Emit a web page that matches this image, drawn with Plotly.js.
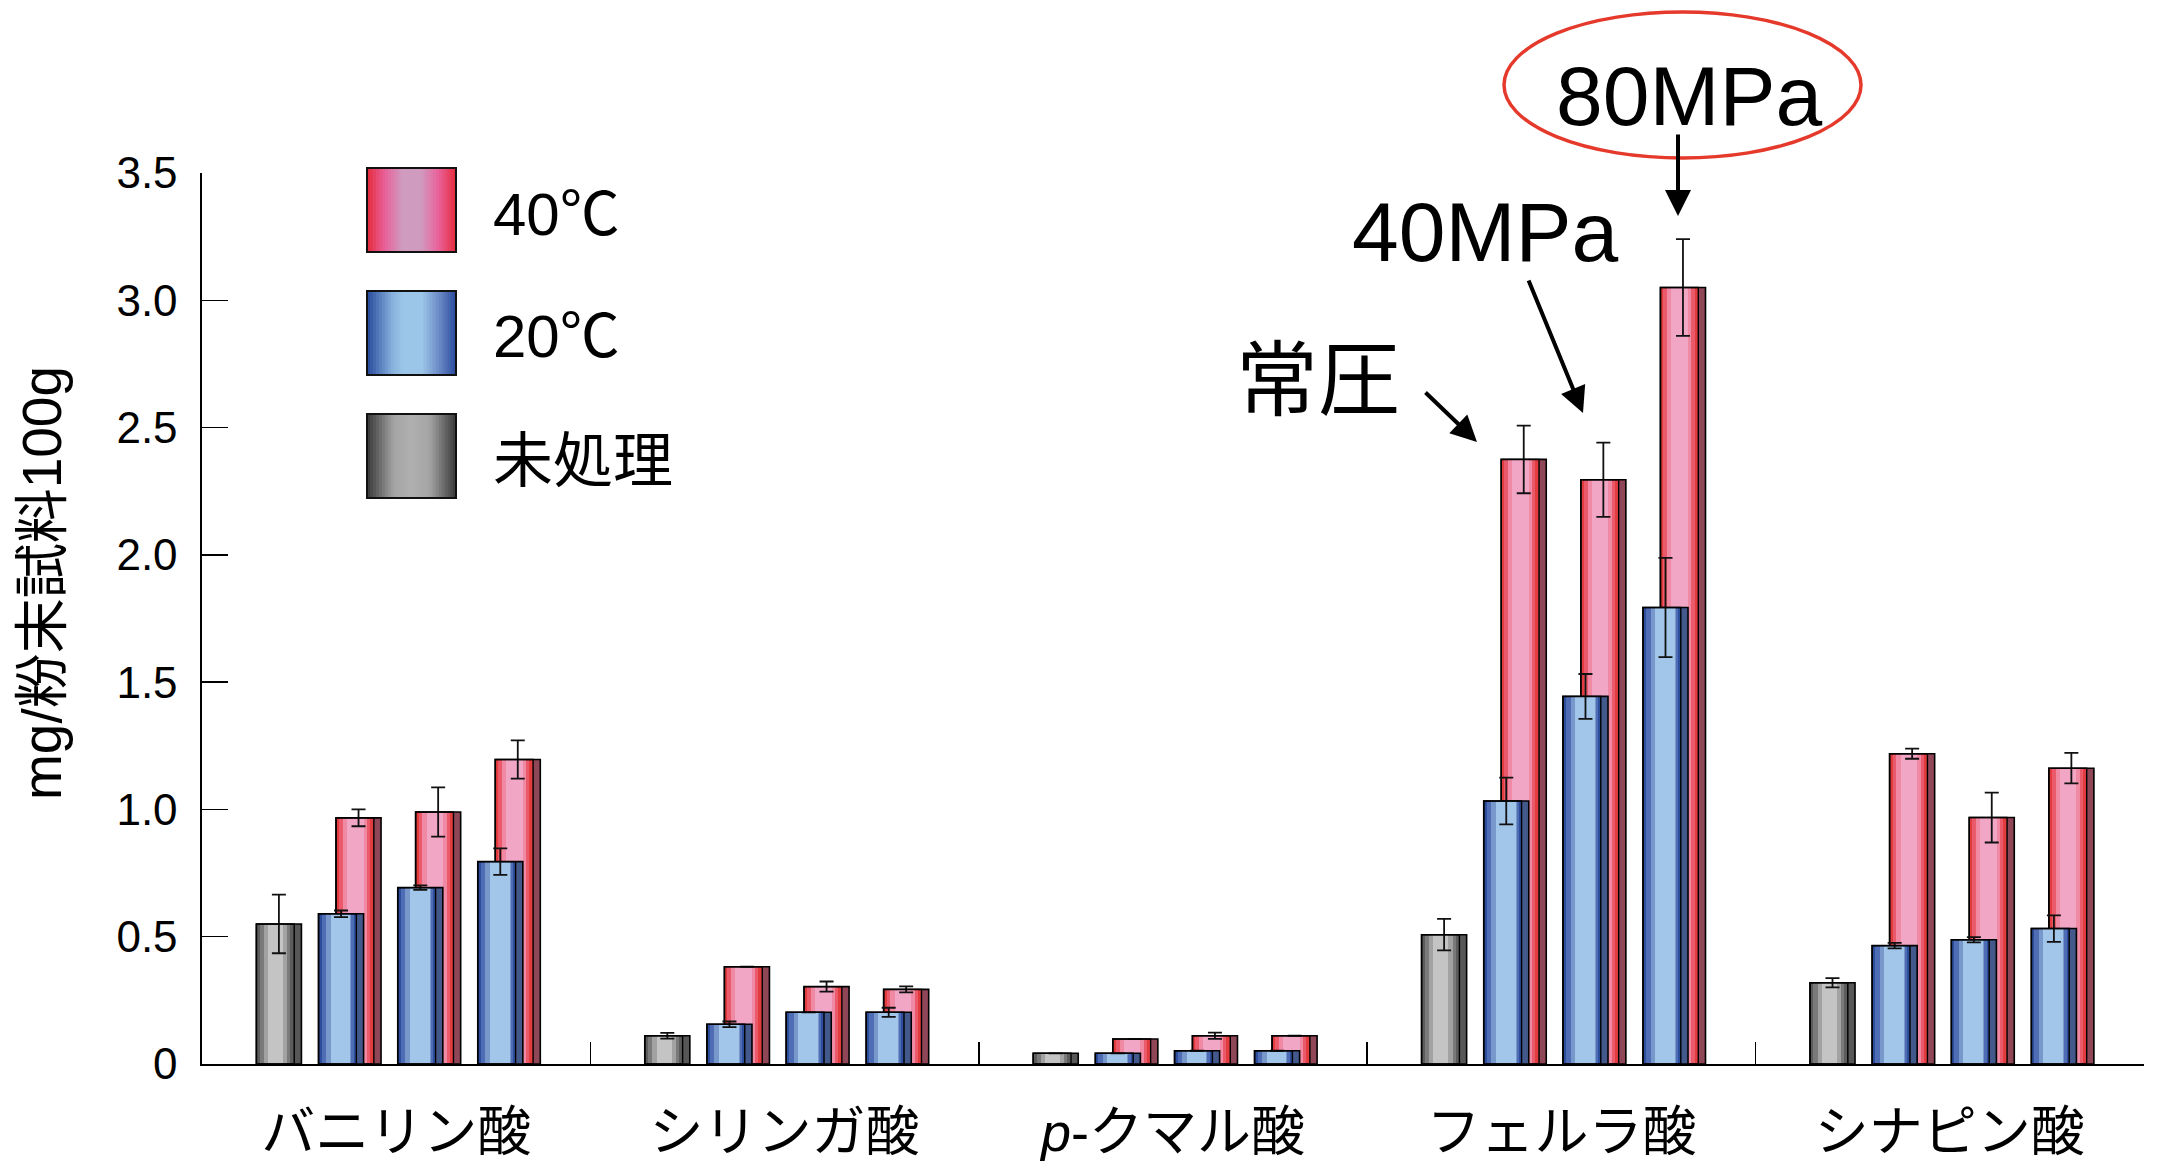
<!DOCTYPE html>
<html>
<head>
<meta charset="utf-8">
<script src="https://cdn.plot.ly/plotly-3.0.1.min.js"></script>
<style>html,body{margin:0;padding:0;background:#fff;}</style>
</head>
<body>
<div id="chart" style="width:2158px;height:1161px;"></div>
<script>
// ---------- data ----------
const categories = ['バニリン酸', 'シリンガ酸', '<i>p</i>-クマル酸', 'フェルラ酸', 'シナピン酸'];
const yTickVals = [0, 0.5, 1.0, 1.5, 2.0, 2.5, 3.0, 3.5];
const yTickText = ['0', '0.5', '1.0', '1.5', '2.0', '2.5', '3.0', '3.5'];

// 未処理 (untreated)
const untreated    = [0.55, 0.111, 0.042, 0.508, 0.319];
const untreatedErr = [0.115, 0.011, null, 0.062, 0.018];

// 20℃ : 常圧 / 40MPa / 80MPa
const t20_atm    = [0.590, 0.156, 0.042, 1.033, 0.465];
const t20_atmErr = [0.013, 0.011, null, 0.092, 0.011];
const t20_40     = [0.693, 0.203, 0.052, 1.444, 0.488];
const t20_40Err  = [0.009, null, null, 0.088, 0.010];
const t20_80     = [0.795, 0.203, 0.052, 1.793, 0.532];
const t20_80Err  = [0.052, 0.018, null, 0.195, 0.052];

// 40℃ : 常圧 / 40MPa / 80MPa
const t40_atm    = [0.967, 0.382, 0.098, 2.375, 1.219];
const t40_atmErr = [0.033, null, null, 0.133, 0.020];
const t40_40     = [0.990, 0.304, 0.111, 2.295, 0.968];
const t40_40Err  = [0.097, 0.020, 0.012, 0.146, 0.098];
const t40_80     = [1.196, 0.293, 0.111, 3.050, 1.162];
const t40_80Err  = [0.075, 0.012, null, 0.190, 0.060];

const legendLabels = ['40℃', '20℃', '未処理'];
const pressureLabels = ['常圧', '40MPa', '80MPa'];
const yTitle = 'mg/粉末試料100g';

// ---------- styling ----------
const FONT = 'Liberation Sans, Arial, Noto Sans CJK JP, sans-serif';
const CJK = 'Noto Sans CJK JP, Liberation Sans, sans-serif';
const W = 0.116;          // bar width (category units)
const FACE = 0.84;        // front face fraction
const grayStyle = {
  side: '#575757',
  layers: [[0, 1, '#5c5c5c'], [0.09, 0.90, '#7a7a7a'], [0.20, 0.82, '#a2a2a2'], [0.31, 0.71, '#c4c4c4']]
};
const blueStyle = {
  side: '#43598b',
  layers: [[0, 1, '#2d4d9d'], [0.08, 0.93, '#4f6db5'], [0.20, 0.87, '#7898cc'], [0.32, 0.84, '#a2c6ea']]
};
const redStyle = {
  side: '#8f4657',
  layers: [[0, 1, '#e23c3e'], [0.08, 0.90, '#ea5a6a'], [0.18, 0.82, '#f08aa4'], [0.29, 0.73, '#f2a6c6']]
};

const traces = [];
function addBar(values, errs, start, style) {
  const base = {type: 'bar', x: categories, y: values, showlegend: false, hoverinfo: 'y'};
  traces.push(Object.assign({}, base, {width: W, offset: start,
    marker: {color: style.side, line: {width: 0}}}));
  const fw = W * FACE;
  style.layers.forEach(([s, e, c]) => {
    traces.push(Object.assign({}, base, {width: fw * (e - s), offset: start + fw * s,
      marker: {color: c, line: {width: 0}}}));
  });
  traces.push(Object.assign({}, base, {width: W, offset: start,
    marker: {color: 'rgba(0,0,0,0)', line: {width: 1.6, color: '#000'}},
    error_y: {type: 'data', array: errs, visible: true, color: '#111', thickness: 1.8, width: 7}}));
  traces.push(Object.assign({}, base, {width: fw, offset: start,
    marker: {color: 'rgba(0,0,0,0)', line: {width: 1.4, color: '#000'}}}));
}

// red (behind), then blue, then gray
addBar(t40_atm, t40_atmErr, -0.155, redStyle);
addBar(t40_40,  t40_40Err,   0.050, redStyle);
addBar(t40_80,  t40_80Err,   0.255, redStyle);
addBar(t20_atm, t20_atmErr, -0.200, blueStyle);
addBar(t20_40,  t20_40Err,   0.004, blueStyle);
addBar(t20_80,  t20_80Err,   0.210, blueStyle);
addBar(untreated, untreatedErr, -0.360, grayStyle);

// ---------- paper helpers (plot area: x 202..2144, y 173..1064) ----------
const PL = 202, PW = 1942, PB = 1064, PH = 891;
const px = v => (v - PL) / PW;
const py = v => (PB - v) / PH;

function hexToRgb(h) { h = h.replace('#', ''); return [0, 2, 4].map(i => parseInt(h.substr(i, 2), 16)); }
function interp(stops, t) {
  for (let i = 0; i < stops.length - 1; i++) {
    const [t0, c0] = stops[i], [t1, c1] = stops[i + 1];
    if (t >= t0 && t <= t1) {
      const f = (t - t0) / (t1 - t0), a = hexToRgb(c0), b = hexToRgb(c1);
      return 'rgb(' + a.map((v, k) => Math.round(v + (b[k] - v) * f)).join(',') + ')';
    }
  }
  return stops[stops.length - 1][1];
}
const shapes = [];
function gradientBox(x0, y0, x1, y1, stops) {
  const N = 30, w = (x1 - x0) / N;
  for (let i = 0; i < N; i++) {
    shapes.push({type: 'rect', xref: 'paper', yref: 'paper', layer: 'above',
      x0: px(x0 + i * w), x1: px(x0 + (i + 1) * w + 0.6), y0: py(y1), y1: py(y0),
      fillcolor: interp(stops, (i + 0.5) / N), line: {width: 0}});
  }
  shapes.push({type: 'rect', xref: 'paper', yref: 'paper', layer: 'above',
    x0: px(x0), x1: px(x1), y0: py(y1), y1: py(y0), line: {color: '#111', width: 2}});
}
gradientBox(367, 168, 456, 252, [[0, '#e52a3a'], [0.2, '#e8609a'], [0.4, '#cf9cc0'], [0.6, '#cf9cc0'], [0.8, '#e8609a'], [1, '#e52a3a']]);
gradientBox(367, 291, 456, 375, [[0, '#284a9c'], [0.28, '#86afdc'], [0.4, '#9cc6e8'], [0.62, '#9cc6e8'], [0.8, '#6d8cc8'], [1, '#284a9c']]);
gradientBox(367, 414, 456, 498, [[0, '#383838'], [0.3, '#a4a4a4'], [0.5, '#b0b0b0'], [0.7, '#a4a4a4'], [1, '#383838']]);

// ellipse around 80MPa
shapes.push({type: 'circle', xref: 'paper', yref: 'paper', layer: 'above',
  x0: px(1504), x1: px(1861), y0: py(158), y1: py(12), line: {color: '#e5392b', width: 3.5}});

const annotations = [];
// legend labels
[[214, legendLabels[0]], [336, legendLabels[1]], [462, legendLabels[2]]].forEach(([y, t]) => {
  annotations.push({xref: 'paper', yref: 'paper', x: px(491), y: py(y), xanchor: 'left', yanchor: 'middle',
    text: t, showarrow: false, font: {family: FONT, size: 60, color: '#000'}});
});
// pressure labels
annotations.push({xref: 'paper', yref: 'paper', x: px(1318), y: py(373), xanchor: 'center', yanchor: 'middle',
  text: pressureLabels[0], showarrow: false, font: {family: CJK, size: 82, color: '#000'}});
annotations.push({xref: 'paper', yref: 'paper', x: px(1485), y: py(232), xanchor: 'center', yanchor: 'middle',
  text: pressureLabels[1], showarrow: false, font: {family: FONT, size: 84, color: '#000'}});
annotations.push({xref: 'paper', yref: 'paper', x: px(1689), y: py(96), xanchor: 'center', yanchor: 'middle',
  text: pressureLabels[2], showarrow: false, font: {family: FONT, size: 84, color: '#000'}});
// arrows (head, tail)
[[[1477, 442], [1424, 391]], [[1583, 413], [1528, 279]], [[1678, 216], [1678, 133]]].forEach(([h, t]) => {
  annotations.push({xref: 'paper', yref: 'paper', x: px(h[0]), y: py(h[1]), ax: t[0] - h[0], ay: t[1] - h[1],
    text: '', showarrow: true, arrowhead: 2, arrowsize: 1.3, arrowwidth: 4, arrowcolor: '#000', standoff: 0});
});
// y-axis title
annotations.push({xref: 'paper', yref: 'paper', x: px(42), y: py(583), xanchor: 'center', yanchor: 'middle',
  text: yTitle, textangle: -90, showarrow: false, font: {family: FONT, size: 55, color: '#000'}});

const layout = {
  width: 2158, height: 1161,
  margin: {l: PL, r: 2158 - PL - PW, t: 173, b: 1161 - PB, pad: 0},
  paper_bgcolor: '#fff', plot_bgcolor: '#fff',
  barmode: 'overlay', bargap: 0,
  xaxis: {type: 'category', range: [-0.5, 4.5], showgrid: false, zeroline: false,
    showline: true, linecolor: '#000', linewidth: 2,
    ticks: 'inside', tickson: 'boundaries', ticklen: 22, tickwidth: 1.6, tickcolor: '#000',
    ticklabelstandoff: 20,
    tickfont: {family: FONT, size: 54, color: '#000'}, fixedrange: true},
  yaxis: {range: [0, 3.5], tickvals: yTickVals, ticktext: yTickText, showgrid: false, zeroline: false,
    showline: true, linecolor: '#000', linewidth: 1.6,
    ticks: 'inside', ticklen: 26, tickwidth: 1.4, tickcolor: '#000',
    ticklabelstandoff: 14,
    tickfont: {family: FONT, size: 44, color: '#000'}, fixedrange: true},
  shapes: shapes,
  annotations: annotations,
  showlegend: false
};

Plotly.newPlot('chart', traces, layout, {displayModeBar: false, staticPlot: true});
</script>
</body>
</html>
